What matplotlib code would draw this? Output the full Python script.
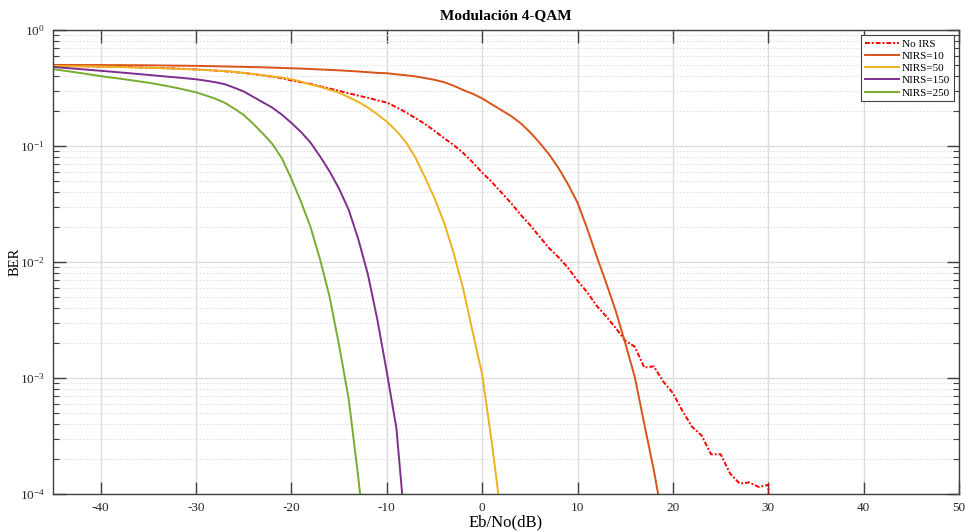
import numpy as np
import matplotlib
matplotlib.use('Agg')
import matplotlib.pyplot as plt
from matplotlib.ticker import LogLocator, NullFormatter, FixedLocator

plt.rcParams['font.family'] = ['Liberation Serif', 'DejaVu Serif']
plt.rcParams['mathtext.fontset'] = 'stix'
plt.rcParams['axes.unicode_minus'] = False

# Eb/No axis (1 dB steps, starting at -45 dB)
ebno_start = -45

ber_no_irs = [0.490, 0.489, 0.488, 0.487, 0.485, 0.484, 0.483, 0.481, 0.479, 0.476,
              0.473, 0.471, 0.468, 0.465, 0.461, 0.457, 0.452, 0.447, 0.441, 0.434,
              0.426, 0.417, 0.406, 0.395, 0.384, 0.367, 0.355, 0.343, 0.327, 0.313,
              0.299, 0.285, 0.272, 0.260, 0.248, 0.237, 0.216, 0.195, 0.174, 0.155,
              0.135, 0.117, 0.102, 0.0871, 0.0724, 0.0589, 0.049, 0.0398, 0.0324, 0.0257,
              0.0209, 0.0166, 0.0132, 0.011, 0.0089, 0.0069, 0.0055, 0.0042, 0.0034, 0.0027,
              0.0021, 0.00186, 0.00123, 0.00126, 0.00093, 0.00074, 0.00052, 0.00038, 0.00032, 0.00022,
              0.00022, 0.00015, 0.000123, 0.000126, 0.000115, 0.00012, 1e-6]

ber_nirs10 = [0.500, 0.500, 0.500, 0.499, 0.499, 0.499, 0.498, 0.498, 0.497, 0.497,
              0.496, 0.495, 0.494, 0.493, 0.492, 0.491, 0.489, 0.487, 0.485, 0.483,
              0.481, 0.479, 0.477, 0.474, 0.471, 0.468, 0.465, 0.461, 0.457, 0.453,
              0.449, 0.444, 0.439, 0.433, 0.427, 0.424, 0.415, 0.407, 0.398, 0.385,
              0.372, 0.355, 0.331, 0.304, 0.282, 0.257, 0.229, 0.204, 0.182, 0.158,
              0.132, 0.107, 0.085, 0.0646, 0.0468, 0.0324, 0.0195, 0.0112, 0.0066, 0.0038,
              0.002, 0.00102, 0.0004, 0.00016, 5.6e-5]

ber_nirs50 = [0.490, 0.489, 0.488, 0.487, 0.486, 0.484, 0.482, 0.480, 0.477, 0.475,
              0.473, 0.470, 0.467, 0.463, 0.460, 0.456, 0.452, 0.447, 0.442, 0.436,
              0.427, 0.417, 0.407, 0.398, 0.389, 0.376, 0.359, 0.339, 0.324, 0.305,
              0.288, 0.263, 0.240, 0.215, 0.188, 0.162, 0.135, 0.108, 0.0794, 0.0537,
              0.0355, 0.0219, 0.012, 0.0059, 0.0025, 0.00107, 0.00028, 6.3e-5]

ber_nirs150 = [0.480, 0.473, 0.466, 0.459, 0.452, 0.445, 0.438, 0.431, 0.424, 0.417,
               0.410, 0.403, 0.396, 0.390, 0.383, 0.376, 0.366, 0.355, 0.341, 0.318,
               0.295, 0.265, 0.238, 0.214, 0.186, 0.158, 0.132, 0.107, 0.0813, 0.0603,
               0.0427, 0.0282, 0.0158, 0.0079, 0.0032, 0.00112, 0.00037, 4.3e-5]

ber_nirs250 = [0.460, 0.448, 0.436, 0.424, 0.412, 0.400, 0.390, 0.381, 0.371, 0.361,
               0.351, 0.340, 0.328, 0.316, 0.303, 0.290, 0.273, 0.256, 0.236, 0.210,
               0.185, 0.155, 0.128, 0.104, 0.078, 0.052, 0.033, 0.020, 0.0105, 0.005,
               0.0019, 0.00066, 0.00014, 2.5e-5]

series = [
    ('No IRS', ber_no_irs, '#FF0000', (0, (2.5, 1, 1, 1))),
    ('NIRS=10', ber_nirs10, '#D95319', '-'),
    ('NIRS=50', ber_nirs50, '#EDB120', '-'),
    ('NIRS=150', ber_nirs150, '#7E2F8E', '-'),
    ('NIRS=250', ber_nirs250, '#77AC30', '-'),
]

fig = plt.figure(figsize=(9.65, 5.32), dpi=100)
ax = fig.add_axes([0.055, 0.0714, 0.9388, 0.8722])

for name, vals, col, ls in series:
    x = np.arange(ebno_start, ebno_start + len(vals))
    ax.semilogy(x, vals, color=col, linestyle=ls, linewidth=1.4, label=name)

ax.set_xlim(-45, 50)
ax.set_ylim(1e-4, 1)
ax.xaxis.set_major_locator(FixedLocator(np.arange(-40, 51, 10)))
ax.yaxis.set_major_locator(LogLocator(base=10, numticks=10))
ax.yaxis.set_minor_locator(LogLocator(base=10, subs=np.arange(2, 10), numticks=10))
ax.yaxis.set_minor_formatter(NullFormatter())

ax.grid(True, which='major', color='#DCDCDC', linestyle='-', linewidth=1.0)
ax.grid(True, which='minor', axis='y', color='#D6D6D6', linestyle=(0, (1, 2)), linewidth=0.8)
ax.set_axisbelow(True)

ax.tick_params(which='both', direction='in', top=True, right=True, colors='#404040',
               labelcolor='#262626', labelsize=9.5)
ax.tick_params(which='major', length=9, width=1.0, pad=6)
ax.tick_params(which='minor', length=4.5, width=0.8)
for sp in ax.spines.values():
    sp.set_color('#404040')
    sp.set_linewidth(1.0)

ax.set_title('Modulación 4-QAM', fontsize=11, fontweight='bold', pad=8)
ax.set_xlabel('Eb/No(dB)', fontsize=12, labelpad=0)
ax.set_ylabel('BER', fontsize=10.5)
ax.yaxis.set_label_coords(-0.035, 0.5)

leg = ax.legend(loc='upper right', fontsize=8, handlelength=3.0, borderpad=0.35,
                labelspacing=0.22, handletextpad=0.3, fancybox=False, framealpha=1,
                borderaxespad=0.45)
leg.get_frame().set_edgecolor('#404040')
leg.get_frame().set_linewidth(0.8)

fig.savefig('out.png', dpi=100)
